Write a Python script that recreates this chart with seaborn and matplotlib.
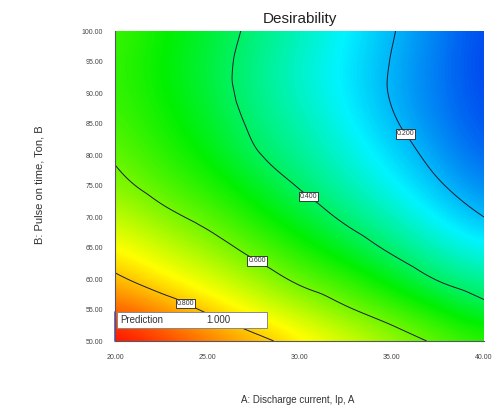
import matplotlib
matplotlib.use("Agg")
import matplotlib.pyplot as plt
import matplotlib.patches as mpatches
import matplotlib.tri as mtri
from matplotlib.colors import Normalize, LinearSegmentedColormap
import seaborn as sns
import numpy as np

# factor levels (grid)
current_a = [20, 22.5, 25, 27.5, 30, 32.5, 35, 37.5, 40]
pulse_on_b = [50, 55, 60, 65, 70, 75, 80, 85, 90, 95, 100]

# desirability, one row per pulse-on-time level, columns follow current_a
desirability = [
    [1.000, 0.945, 0.886, 0.826, 0.767, 0.707, 0.648, 0.585, 0.529],
    [0.905, 0.850, 0.790, 0.730, 0.672, 0.612, 0.555, 0.490, 0.430],
    [0.815, 0.760, 0.710, 0.650, 0.583, 0.531, 0.464, 0.395, 0.345],
    [0.750, 0.690, 0.640, 0.575, 0.510, 0.450, 0.385, 0.320, 0.270],
    [0.685, 0.625, 0.575, 0.510, 0.450, 0.385, 0.325, 0.260, 0.200],
    [0.625, 0.570, 0.520, 0.460, 0.395, 0.335, 0.275, 0.210, 0.150],
    [0.590, 0.530, 0.480, 0.410, 0.360, 0.300, 0.240, 0.175, 0.115],
    [0.560, 0.505, 0.455, 0.388, 0.335, 0.275, 0.210, 0.150, 0.095],
    [0.545, 0.490, 0.440, 0.372, 0.315, 0.258, 0.195, 0.140, 0.085],
    [0.540, 0.485, 0.435, 0.372, 0.310, 0.255, 0.197, 0.138, 0.080],
    [0.550, 0.495, 0.445, 0.383, 0.325, 0.267, 0.205, 0.145, 0.085],
]
contour_levels = [0.2, 0.4, 0.6, 0.8]
x_ticks = [20, 25, 30, 35, 40]
y_ticks = [50, 55, 60, 65, 70, 75, 80, 85, 90, 95, 100]
prediction_point = (20, 50)
prediction_value = 1.000

sns.set_style("white")
plt.rcParams["font.family"] = ["Liberation Sans", "DejaVu Sans"]

D = np.array(desirability)
dx = (current_a[1] - current_a[0]) / 2
dy = (pulse_on_b[1] - pulse_on_b[0]) / 2

# Design-Expert style blue -> cyan -> green -> yellow -> red
cmap = LinearSegmentedColormap.from_list(
    "dx", [(0.0, "#0044ee"), (0.2, "#00f4ff"), (0.44, "#00f000"), (0.72, "#ffff00"), (1.0, "#ff0000")])
norm = Normalize(vmin=D.min(), vmax=D.max())

fig = plt.figure(figsize=(4.97, 4.12), dpi=100)
ax = fig.add_axes([115 / 497, 71 / 412, 369 / 497, 310 / 412])

ax.imshow(D, origin="lower", cmap=cmap, norm=norm, aspect="auto",
          interpolation="bicubic",
          extent=[current_a[0] - dx, current_a[-1] + dx, pulse_on_b[0] - dy, pulse_on_b[-1] + dy])

# smooth contour lines via matplotlib's cubic triangulation refiner
AA, BB = np.meshgrid(current_a, pulse_on_b)
tri = mtri.Triangulation(AA.ravel(), BB.ravel())
interp = mtri.CubicTriInterpolator(tri, D.ravel(), kind="geom")
tri_f, z_f = mtri.UniformTriRefiner(tri).refine_field(D.ravel(), triinterpolator=interp, subdiv=4)
cs = ax.tricontour(tri_f, z_f, levels=contour_levels, colors="#1c1c30", linewidths=0.7)
labels = ax.clabel(cs, fmt="%.3f", fontsize=5, inline=False,
                   manual=[(23.9, 56.5), (27.7, 62.9), (30.5, 73.4), (35.7, 83.3)])
for t in labels:
    t.set_rotation(0)
    t.set_color("#333333")
    t.set_bbox(dict(facecolor="white", edgecolor="#222222", linewidth=0.6, pad=0.8))

ax.set_xlim(current_a[0], current_a[-1])
ax.set_ylim(pulse_on_b[0], pulse_on_b[-1])
ax.set_xticks(x_ticks)
ax.set_xticklabels([f"{v:.2f}" for v in x_ticks])
ax.set_yticks(y_ticks)
ax.set_yticklabels([f"{v:.2f}" for v in y_ticks])
ax.tick_params(axis="both", direction="out", length=6.5, width=0.8, color="#333333",
               labelsize=5, labelcolor="#444444", pad=2)
ax.tick_params(axis="x", pad=3)

for side in ["top", "right"]:
    ax.spines[side].set_visible(False)
for side in ["left", "bottom"]:
    ax.spines[side].set_color("#555566")
    ax.spines[side].set_linewidth(0.8)

# prediction flag
ax.plot([prediction_point[0], prediction_point[0]], [prediction_point[1], prediction_point[1] + 4.7],
        color="#8040c0", lw=1.2, clip_on=False)
ax.add_patch(mpatches.Rectangle((0.006, 0.042), 0.406, 0.052, transform=ax.transAxes,
                                facecolor="white", edgecolor="#888888", linewidth=0.7, zorder=5))
ax.text(0.014, 0.068, "Prediction", transform=ax.transAxes, fontsize=7,
        color="#333333", va="center", ha="left", zorder=6)
ax.text(0.247, 0.068, f"{prediction_value:.3f}", transform=ax.transAxes, fontsize=7,
        color="#333333", va="center", ha="left", zorder=6)

ax.set_title("Desirability", fontsize=11, color="#222222", pad=6)
fig.text(298 / 497, 1 - 400 / 412, "A: Discharge current, Ip, A", fontsize=7,
         color="#333333", ha="center", va="center")
fig.text(40 / 497, 1 - 185 / 412, "B: Pulse on time, Ton, B", fontsize=8,
         color="#333333", ha="center", va="center", rotation=90)

fig.savefig("out.png", dpi=100)
